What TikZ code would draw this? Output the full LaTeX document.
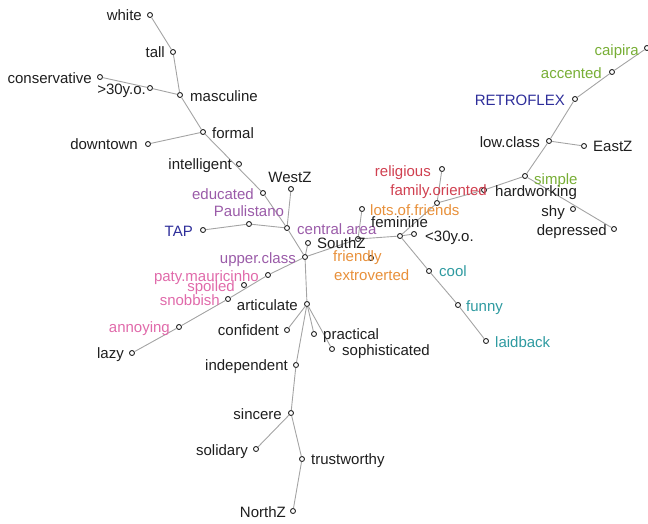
\documentclass[tikz,border=0pt]{standalone}
\usepackage{fontspec}
\setmainfont{Liberation Sans}
\definecolor{txtblack}{HTML}{1E1E1E}
\definecolor{txtpurple}{HTML}{9A5BA8}
\definecolor{txtblue}{HTML}{2E2E9A}
\definecolor{txtpink}{HTML}{E06AAA}
\definecolor{txtred}{HTML}{D04050}
\definecolor{txtorange}{HTML}{E8903A}
\definecolor{txtteal}{HTML}{2E9AA0}
\definecolor{txtgreen}{HTML}{78AE36}
\definecolor{branch}{HTML}{A4A4A4}
\tikzset{
  tip/.style={circle, draw=black!85, fill=white, line width=0.9pt, inner sep=0pt, minimum size=5pt},
  branchline/.style={draw=branch, line width=0.9pt},
  lab/.style={inner sep=0pt, font=\fontsize{15}{18}\selectfont},
  labl/.style={lab, anchor=base east},
  labr/.style={lab, anchor=base west},
  labc/.style={lab, anchor=base},
}
\begin{document}
\begin{tikzpicture}[x=1pt,y=-1pt]
\useasboundingbox (0,0) rectangle (648,523);
% tips of the tree
\node[tip] (white) at (150,15) {};
\node[tip] (tall) at (173,52) {};
\node[tip] (conservative) at (100,77) {};
\node[tip] (over30) at (150,88) {};
\node[tip] (masculine) at (180,95) {};
\node[tip] (formal) at (203,132) {};
\node[tip] (downtown) at (148,144) {};
\node[tip] (intelligent) at (239,164) {};
\node[tip] (westz) at (291,189) {};
\node[tip] (educated) at (263,193) {};
\node[tip] (paulistano) at (249,224) {};
\node[tip] (tap) at (203,230) {};
\node[tip] (central) at (287,228) {};
\node[tip] (southz) at (308,243) {};
\node[tip] (upper) at (305,257) {};
\node[tip] (paty) at (268,275) {};
\node[tip] (spoiled) at (244,285) {};
\node[tip] (snobbish) at (228,299) {};
\node[tip] (articulate) at (307,304) {};
\node[tip] (annoying) at (179,327) {};
\node[tip] (lazy) at (132,353) {};
\node[tip] (confident) at (287,330) {};
\node[tip] (practical) at (314,334) {};
\node[tip] (sophisticated) at (332,349) {};
\node[tip] (independent) at (296,365) {};
\node[tip] (sincere) at (291,413) {};
\node[tip] (solidary) at (256,449) {};
\node[tip] (trustworthy) at (302,459) {};
\node[tip] (northz) at (293,511) {};
\node[tip] (religious) at (442,169) {};
\node[tip] (lots) at (362,209) {};
\node[tip] (friendly) at (371,258) {};
\node[tip] (hub) at (358,239) {};
\node[tip] (feminine) at (400,236) {};
\node[tip] (under30) at (414,234) {};
\node[tip] (cool) at (429,271) {};
\node[tip] (funny) at (458,305) {};
\node[tip] (laidback) at (486,341) {};
\node[tip] (family) at (437,203) {};
\node[tip] (hardworking) at (484,190) {};
\node[tip] (simple) at (525,176) {};
\node[tip] (lowclass) at (549,141) {};
\node[tip] (eastz) at (584,146) {};
\node[tip] (retroflex) at (575,99) {};
\node[tip] (accented) at (612,72) {};
\node[tip] (caipira) at (647,48) {};
\node[tip] (shy) at (573,209) {};
\node[tip] (depressed) at (614,229) {};
% branches
\path[branchline] (white) -- (tall) -- (masculine);
\path[branchline] (conservative) -- (over30) -- (masculine);
\path[branchline] (masculine) -- (formal);
\path[branchline] (downtown) -- (formal);
\path[branchline] (formal) -- (educated) -- (central);
\path[branchline] (westz) -- (central);
\path[branchline] (tap) -- (paulistano) -- (central);
\path[branchline] (central) -- (upper);
\path[branchline] (southz) -- (upper);
\path[branchline] (upper) -- (paty) -- (snobbish) -- (annoying) -- (lazy);
\path[branchline] (upper) -- (articulate);
\path[branchline] (articulate) -- (confident);
\path[branchline] (articulate) -- (practical);
\path[branchline] (articulate) -- (sophisticated);
\path[branchline] (articulate) -- (independent) -- (sincere) -- (trustworthy) -- (northz);
\path[branchline] (sincere) -- (solidary);
\path[branchline] (upper) -- (hub) -- (feminine) -- (under30);
\path[branchline] (hub) -- (lots);
\path[branchline] (feminine) -- (cool) -- (funny) -- (laidback);
\path[branchline] (feminine) -- (family) -- (religious);
\path[branchline] (family) -- (hardworking) -- (simple);
\path[branchline] (simple) -- (lowclass) -- (retroflex) -- (accented) -- (caipira);
\path[branchline] (lowclass) -- (eastz);
\path[branchline] (simple) -- (depressed);
% labels
\node[labl, text=txtblack] (t-white) at (142,20) {white};
\node[labl, text=txtblack] (t-tall) at (165,57) {tall};
\node[labl, text=txtblack] (t-conservative) at (92,83) {conservative};
\node[labl, text=txtblack] (t-over30) at (146,94) {>30y.o.};
\node[labr, text=txtblack] (t-masculine) at (190,101) {masculine};
\node[labr, text=txtblack] (t-formal) at (212,138) {formal};
\node[labl, text=txtblack] (t-downtown) at (138,149) {downtown};
\node[labl, text=txtblack] (t-intelligent) at (232,169) {intelligent};
\node[labc, text=txtblack] (t-westz) at (290,182) {WestZ};
\node[labl, text=txtpurple] (t-educated) at (254,199) {educated};
\node[labc, text=txtpurple] (t-paulistano) at (249,216) {Paulistano};
\node[labl, text=txtblue] (t-tap) at (193,236) {TAP};
\node[labr, text=txtpurple] (t-central) at (297,234) {central.area};
\node[labr, text=txtblack] (t-southz) at (317,248) {SouthZ};
\node[labl, text=txtpurple] (t-upper) at (296,263) {upper.class};
\node[labl, text=txtpink] (t-paty) at (259,281) {paty.mauricinho};
\node[labl, text=txtpink] (t-spoiled) at (235,291) {spoiled};
\node[labl, text=txtpink] (t-snobbish) at (220,305) {snobbish};
\node[labl, text=txtblack] (t-articulate) at (298,310) {articulate};
\node[labl, text=txtpink] (t-annoying) at (170,332) {annoying};
\node[labl, text=txtblack] (t-lazy) at (124,358) {lazy};
\node[labl, text=txtblack] (t-confident) at (279,335) {confident};
\node[labr, text=txtblack] (t-practical) at (323,339) {practical};
\node[labr, text=txtblack] (t-sophisticated) at (342,355) {sophisticated};
\node[labl, text=txtblack] (t-independent) at (288,370) {independent};
\node[labl, text=txtblack] (t-sincere) at (282,419) {sincere};
\node[labl, text=txtblack] (t-solidary) at (248,455) {solidary};
\node[labr, text=txtblack] (t-trustworthy) at (311,464) {trustworthy};
\node[labl, text=txtblack] (t-northz) at (286,517) {NorthZ};
\node[labl, text=txtred] (t-religious) at (431,176) {religious};
\node[labl, text=txtred] (t-family) at (487,195) {family.oriented};
\node[labr, text=txtorange] (t-lots) at (370,215) {lots.of.friends};
\node[labr, text=txtblack] (t-feminine) at (371,227) {feminine};
\node[labr, text=txtblack] (t-under30) at (425,241) {<30y.o.};
\node[labr, text=txtorange] (t-friendly) at (333,261) {friendly};
\node[labr, text=txtorange] (t-extroverted) at (334,280) {extroverted};
\node[labr, text=txtteal] (t-cool) at (439,276) {cool};
\node[labr, text=txtteal] (t-funny) at (466,311) {funny};
\node[labr, text=txtteal] (t-laidback) at (495,347) {laidback};
\node[labr, text=txtblack] (t-hardworking) at (495,196) {hardworking};
\node[labr, text=txtgreen] (t-simple) at (534,184) {simple};
\node[labl, text=txtblack] (t-lowclass) at (540,147) {low.class};
\node[labr, text=txtblack] (t-eastz) at (593,151) {EastZ};
\node[labl, text=txtblue] (t-retroflex) at (565,105) {RETROFLEX};
\node[labl, text=txtgreen] (t-accented) at (602,78) {accented};
\node[labl, text=txtgreen] (t-caipira) at (639,55) {caipira};
\node[labl, text=txtblack] (t-shy) at (565,216) {shy};
\node[labl, text=txtblack] (t-depressed) at (607,235) {depressed};
\end{tikzpicture}
\end{document}
